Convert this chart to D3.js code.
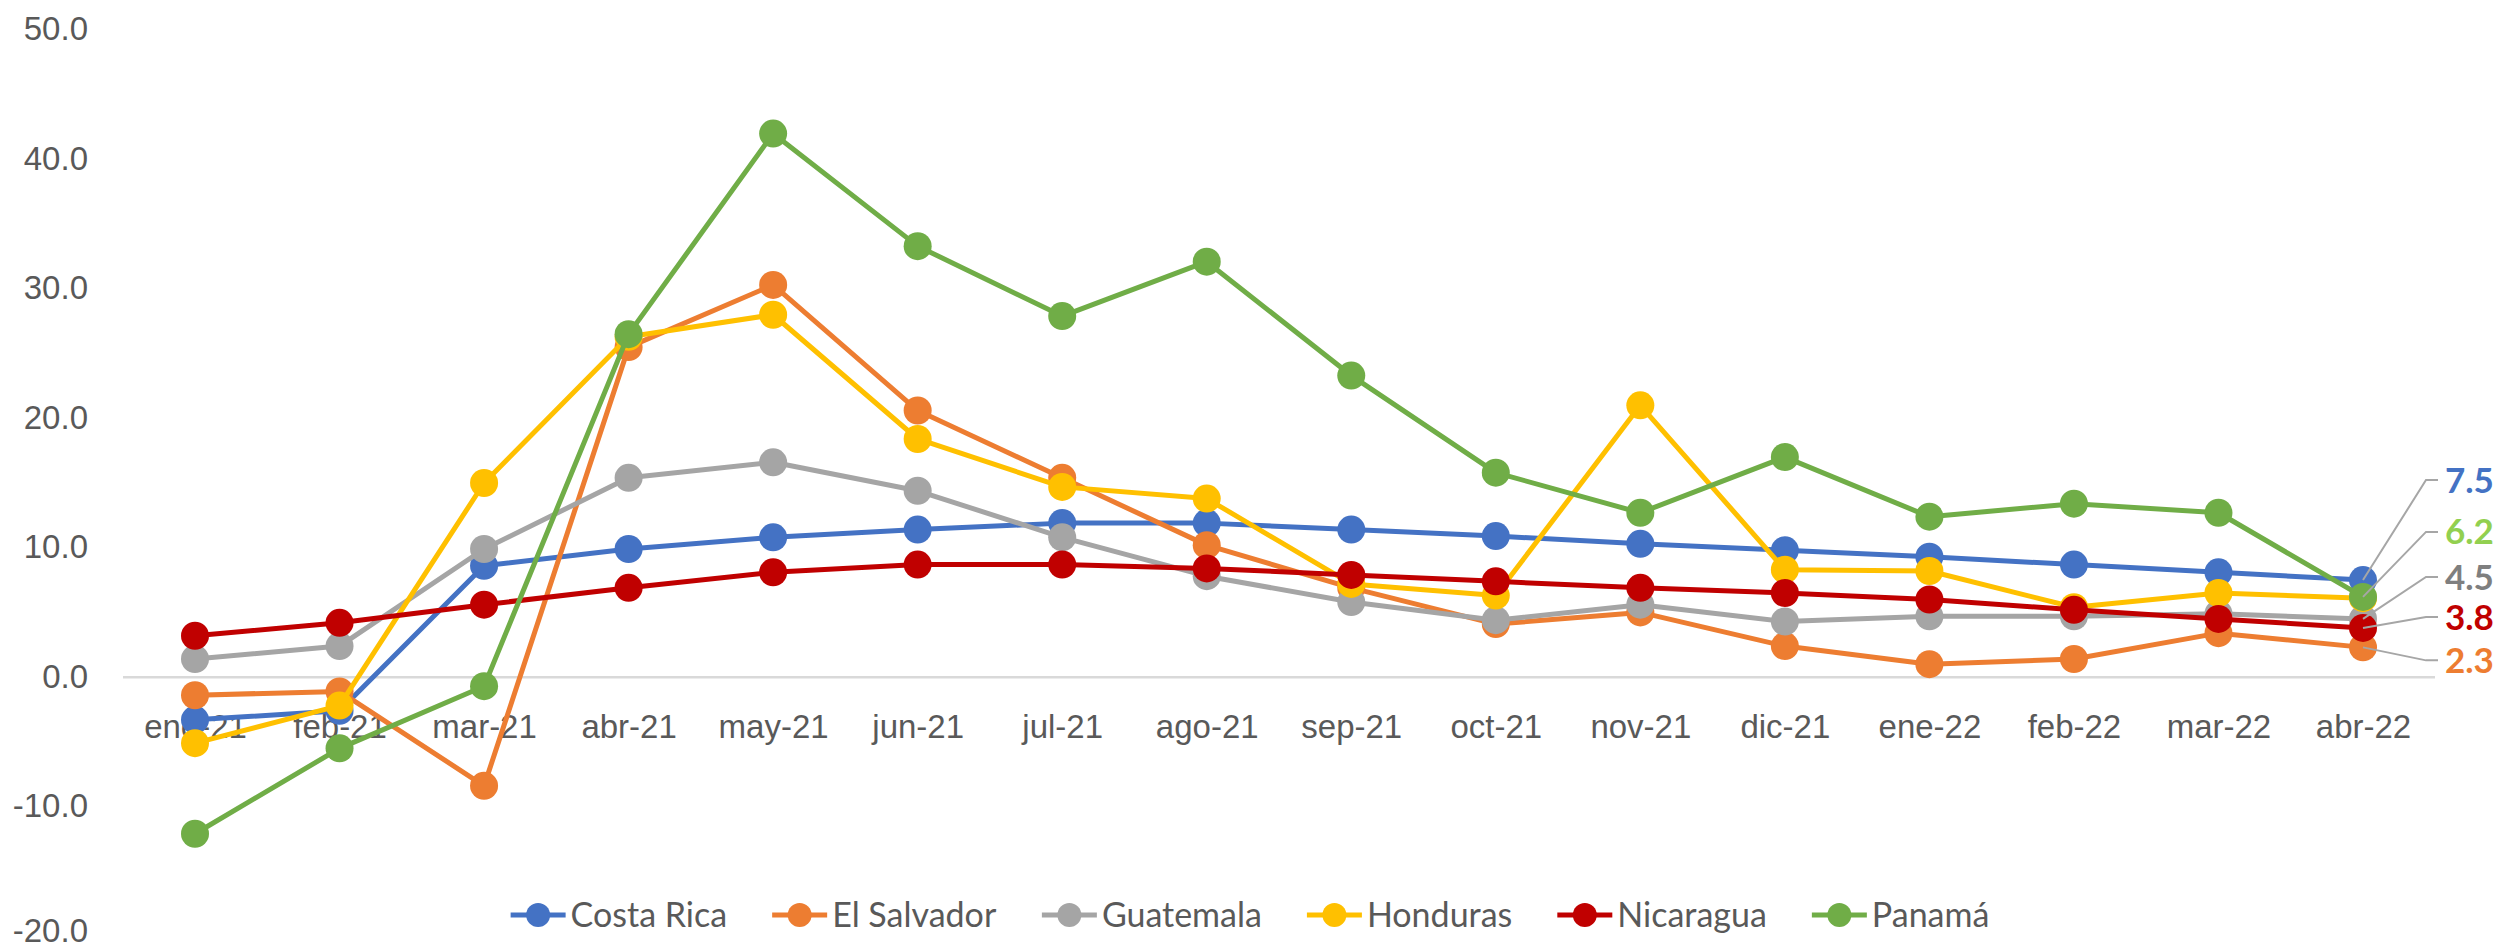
<!DOCTYPE html>
<meta charset="utf-8">
<title>Centroamérica</title>
<body>
<script src="https://cdn.jsdelivr.net/npm/d3@7"></script>
<style>
html, body {
    margin: 0;
    background: #fff;
}
svg {
    display: block;
    font-family: Lato, "Open Sans", sans-serif;
}
.axis text {
    fill: #595959;
    font-size: 33px;
}
.legend text {
    fill: #595959;
    font-size: 34px;
}
</style>
<script>
var months = ["ene-21", "feb-21", "mar-21", "abr-21", "may-21", "jun-21", "jul-21", "ago-21",
              "sep-21", "oct-21", "nov-21", "dic-21", "ene-22", "feb-22", "mar-22", "abr-22"];

var countries = ["Costa Rica", "El Salvador", "Guatemala", "Honduras", "Nicaragua", "Panamá"];

var costaRica  = [-3.3, -2.6, 8.6, 9.9, 10.8, 11.4, 11.9, 11.9, 11.4, 10.9, 10.3, 9.8, 9.3, 8.7, 8.1, 7.5];
var elSalvador = [-1.4, -1.1, -8.4, 25.5, 30.3, 20.6, 15.4, 10.2, 6.9, 4.1, 5.0, 2.4, 1.0, 1.4, 3.4, 2.3];
var guatemala  = [1.4, 2.4, 9.9, 15.4, 16.6, 14.4, 10.8, 7.8, 5.8, 4.4, 5.6, 4.3, 4.7, 4.7, 4.9, 4.5];
var honduras   = [-5.1, -2.2, 15.0, 26.3, 28.0, 18.4, 14.7, 13.8, 7.2, 6.3, 21.0, 8.3, 8.2, 5.4, 6.5, 6.1];
var nicaragua  = [3.2, 4.2, 5.6, 6.9, 8.1, 8.7, 8.7, 8.4, 7.9, 7.4, 6.9, 6.5, 6.0, 5.2, 4.5, 3.8];
var panama     = [-12.1, -5.5, -0.7, 26.5, 42.0, 33.3, 27.9, 32.1, 23.3, 15.8, 12.7, 17.0, 12.4, 13.4, 12.7, 6.2];

var yTicks = [-20, -10, 0, 10, 20, 30, 40, 50];

var width = 2501,
    height = 949;

var colors = ["#4472C4", "#ED7D31", "#A5A5A5", "#FFC000", "#C00000", "#70AD47"];
var labelColors = ["#4472C4", "#ED7D31", "#7F7F7F", "#FFC000", "#C00000", "#92D050"];

var series = [costaRica, elSalvador, guatemala, honduras, nicaragua, panama].map(function(values, i) {
    return {name: countries[i], values: values, color: colors[i], labelColor: labelColors[i]};
});

function fmt(v) { return v.toFixed(1); }

var x = d3.scalePoint()
    .domain(months)
    .range([195, 2363]);

var y = d3.scaleLinear()
    .domain([-20, 50])
    .range([936, 30]);

var svg = d3.select("body").append("svg")
    .attr("width", width)
    .attr("height", height);

// y axis labels only
svg.append("g")
    .attr("class", "axis")
    .attr("transform", "translate(123,0)")
    .call(d3.axisLeft(y).tickValues(yTicks).tickFormat(fmt).tickSize(0).tickPadding(35))
    .call(function(g) {
        g.select(".domain").remove();
        // bottom label sits at the picture edge, nudge it up a little
        g.selectAll("text").attr("dy", function(d) { return d === yTicks[0] ? "0.16em" : "0.3em"; });
    });

// zero line
svg.append("line")
    .attr("x1", 123)
    .attr("x2", 2435)
    .attr("y1", y(0))
    .attr("y2", y(0))
    .attr("stroke", "#D9D9D9")
    .attr("stroke-width", 2.5);

svg.append("g")
    .attr("class", "axis")
    .attr("transform", "translate(0," + y(0) + ")")
    .call(d3.axisBottom(x).tickSize(0).tickPadding(37))
    .call(function(g) { g.select(".domain").remove(); });

var line = d3.line()
    .x(function(d, i) { return x(months[i]); })
    .y(function(d) { return y(d); });

var groups = svg.selectAll(".series")
    .data(series)
    .enter().append("g")
    .attr("class", "series");

groups.append("path")
    .attr("fill", "none")
    .attr("stroke", function(d) { return d.color; })
    .attr("stroke-width", 5)
    .attr("stroke-linejoin", "round")
    .attr("d", function(d) { return line(d.values); });

groups.selectAll("circle")
    .data(function(d) { return d.values.map(function(v, i) { return {v: v, i: i, color: d.color}; }); })
    .enter().append("circle")
    .attr("cx", function(d) { return x(months[d.i]); })
    .attr("cy", function(d) { return y(d.v); })
    .attr("r", 14)
    .attr("fill", function(d) { return d.color; });

// end labels with leader lines (offsets from last point, in px)
var labelShift = [-100, 13, -42, null, -11, -65];
var last = months.length - 1;

series.forEach(function(s, i) {
    if (labelShift[i] === null) return;
    var px = x(months[last]),
        py = y(s.values[last]),
        ly = py + labelShift[i];
    svg.append("path")
        .attr("fill", "none")
        .attr("stroke", "#A6A6A6")
        .attr("stroke-width", 2)
        .attr("d", "M" + [px, py] + "L" + [2426, ly] + "L" + [2438, ly]);
    svg.append("text")
        .attr("x", 2445)
        .attr("y", ly)
        .attr("dy", "0.36em")
        .attr("fill", s.labelColor)
        .style("font-size", "35px")
        .style("font-weight", "bold")
        .text(fmt(s.values[last]));
});

// legend
var legend = svg.append("g")
    .attr("class", "legend")
    .attr("transform", "translate(0,915)");

var items = legend.selectAll("g")
    .data(series)
    .enter().append("g");

items.append("line")
    .attr("x1", 0)
    .attr("x2", 55)
    .attr("stroke", function(d) { return d.color; })
    .attr("stroke-width", 5);

items.append("circle")
    .attr("cx", 27.5)
    .attr("r", 12)
    .attr("fill", function(d) { return d.color; });

items.append("text")
    .attr("x", 60)
    .attr("dy", "0.36em")
    .text(function(d) { return d.name; });

var offsets = [], total = 0;
items.each(function() {
    offsets.push(total);
    total += this.getBBox().width + 45;
});
total -= 45;
var start = 1250 - total / 2;
items.attr("transform", function(d, i) { return "translate(" + (start + offsets[i]) + ",0)"; });
</script>
